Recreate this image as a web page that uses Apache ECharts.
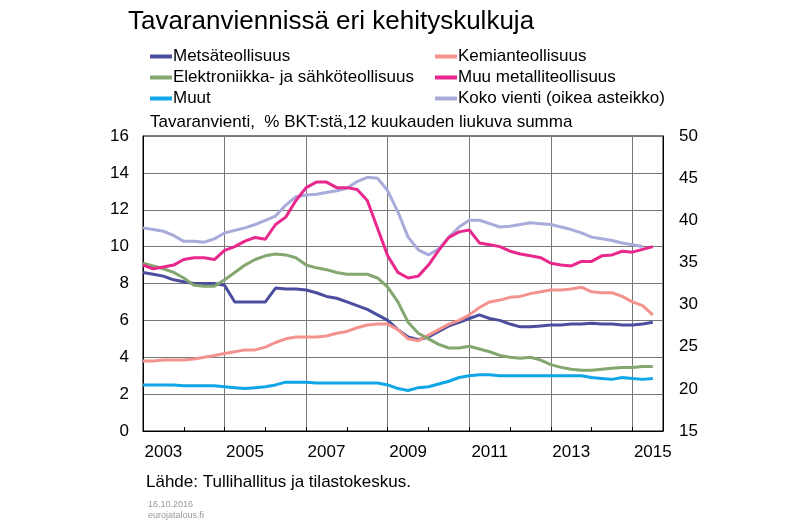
<!DOCTYPE html>
<html><head><meta charset="utf-8">
<script src="https://cdn.jsdelivr.net/npm/echarts@6/dist/echarts.min.js"></script>
<style>html,body{margin:0;padding:0;background:#fff}#c{width:800px;height:523px}</style>
</head><body><div id="c"></div>
<script>
// quarterly categories 2003Q1 .. 2015Q4
const quarters = [];
for (let y = 2003; y <= 2015; y++) for (let q = 1; q <= 4; q++) quarters.push(y + 'Q' + q);
const metsa = [8.6,8.5,8.4,8.2,8.1,8.0,8.0,8.0,7.9,7.0,7.0,7.0,7.0,7.75,7.7,7.7,7.65,7.5,7.3,7.2,7.0,6.8,6.6,6.3,6.0,5.5,5.1,4.95,5.1,5.4,5.7,5.9,6.1,6.3,6.1,6.0,5.8,5.65,5.65,5.7,5.75,5.75,5.8,5.8,5.85,5.8,5.8,5.75,5.75,5.8,5.9];
const kemia = [3.8,3.8,3.85,3.85,3.85,3.9,4.0,4.1,4.2,4.3,4.4,4.4,4.55,4.8,5.0,5.1,5.1,5.1,5.15,5.3,5.4,5.6,5.75,5.8,5.8,5.5,5.0,4.9,5.2,5.5,5.8,6.0,6.3,6.7,7.0,7.1,7.25,7.3,7.45,7.55,7.65,7.65,7.7,7.8,7.55,7.5,7.5,7.3,7.0,6.8,6.3];
const elektro = [9.1,8.95,8.8,8.6,8.3,7.9,7.85,7.85,8.2,8.6,9.0,9.3,9.5,9.6,9.55,9.4,9.0,8.85,8.75,8.6,8.5,8.5,8.5,8.3,7.8,7.0,5.9,5.3,5.0,4.7,4.5,4.5,4.6,4.45,4.3,4.1,4.0,3.95,4.0,3.85,3.6,3.45,3.35,3.3,3.3,3.35,3.4,3.45,3.45,3.5,3.5];
const metalli = [9.0,8.8,8.9,9.0,9.3,9.4,9.4,9.3,9.8,10.0,10.3,10.5,10.4,11.2,11.6,12.5,13.2,13.5,13.5,13.2,13.2,13.1,12.5,11.0,9.5,8.6,8.3,8.4,9.0,9.8,10.5,10.8,10.9,10.2,10.1,10.0,9.75,9.6,9.5,9.4,9.1,9.0,8.95,9.2,9.2,9.5,9.55,9.75,9.7,9.85,10.0];
const muut = [2.5,2.5,2.5,2.5,2.45,2.45,2.45,2.45,2.4,2.35,2.3,2.35,2.4,2.5,2.65,2.65,2.65,2.6,2.6,2.6,2.6,2.6,2.6,2.6,2.5,2.3,2.2,2.35,2.4,2.55,2.7,2.9,3.0,3.05,3.05,3.0,3.0,3.0,3.0,3.0,3.0,3.0,3.0,3.0,2.9,2.85,2.8,2.9,2.85,2.8,2.85];
const koko = [39.1,38.9,38.7,38.2,37.5,37.5,37.4,37.8,38.5,38.8,39.1,39.5,40.0,40.5,41.8,42.8,43.0,43.1,43.3,43.5,43.8,44.6,45.1,45.0,43.5,41.0,38.0,36.5,35.9,36.6,38.0,39.2,40.0,40.0,39.6,39.2,39.3,39.5,39.7,39.6,39.5,39.2,38.9,38.5,38.0,37.8,37.6,37.3,37.1,36.9];
const names = ['Metsäteollisuus','Kemianteollisuus','Elektroniikka- ja sähköteollisuus','Muu metalliteollisuus','Muut','Koko vienti (oikea asteikko)'];
const colors = ['#4B4E9F','#F4938E','#84A66F','#E8288C','#10A5E6','#A9ABDB'];
const ch = echarts.init(document.getElementById('c'));
const font = 'Liberation Sans, Arial, sans-serif';
const mk = (i, d, yi) => ({name: names[i], type: 'line', data: d, yAxisIndex: yi || 0, showSymbol: false, smooth: false,
  lineStyle: {width: 3, color: colors[i]}, itemStyle: {color: colors[i]}, z: i === 5 ? 1 : 3});
ch.setOption({
  animation: false,
  textStyle: {fontFamily: font},
  title: [
    {text: 'Tavaranviennissä eri kehityskulkuja', left: 123, top: 4, textStyle: {fontSize: 26, fontWeight: 'normal', color: '#000', fontFamily: font}},
    {text: 'Tavaranvienti,  % BKT:stä,12 kuukauden liukuva summa', left: 145, top: 109, textStyle: {fontSize: 17, fontWeight: 'normal', color: '#000', fontFamily: font}},
    {text: 'Lähde: Tullihallitus ja tilastokeskus.', left: 141, top: 469, textStyle: {fontSize: 17, fontWeight: 'normal', color: '#000', fontFamily: font}},
    {text: '16.10.2016\neurojatalous.fi', left: 143, top: 494, textStyle: {fontSize: 9, lineHeight: 11, fontWeight: 'normal', color: '#999', fontFamily: font}}
  ],
  legend: [
    {data: [names[0], names[2], names[4]], orient: 'vertical', left: 145, top: 43, itemGap: 4, icon: 'rect', itemWidth: 22, itemHeight: 4,
     textStyle: {fontSize: 17, color: '#000', padding: [0,0,0,-4]}},
    {data: [names[1], names[3], names[5]], orient: 'vertical', left: 430, top: 43, itemGap: 4, icon: 'rect', itemWidth: 22, itemHeight: 4,
     textStyle: {fontSize: 17, color: '#000', padding: [0,0,0,-4]}}
  ],
  grid: {left: 143, right: 137, top: 136, bottom: 92, show: true, borderColor: '#000', borderWidth: 1},
  xAxis: {type: 'category', data: quarters, boundaryGap: false,
    axisLine: {lineStyle: {color: '#000'}},
    axisTick: {interval: (i) => i % 4 === 0, inside: true, length: 4, lineStyle: {color: '#000'}},
    axisLabel: {interval: (i) => i % 8 === 2, formatter: (v) => v.slice(0, 4), fontSize: 17, color: '#000', margin: 13},
    splitLine: {show: true, interval: (i) => i % 8 === 0 && i > 0, lineStyle: {color: '#777'}}},
  yAxis: [
    {type: 'value', min: 0, max: 16, interval: 2, axisLine: {show: true, lineStyle: {color: '#000'}}, axisTick: {show: false},
     axisLabel: {fontSize: 17, color: '#000', margin: 14}, splitLine: {lineStyle: {color: '#777'}}},
    {type: 'value', min: 15, max: 50, interval: 5, position: 'right', axisLine: {show: true, lineStyle: {color: '#000'}}, axisTick: {show: false},
     axisLabel: {fontSize: 17, color: '#000', margin: 16}, splitLine: {show: false}}
  ],
  series: [mk(5, koko, 1), mk(0, metsa), mk(1, kemia), mk(2, elektro), mk(3, metalli), mk(4, muut)]
});
</script></body></html>
